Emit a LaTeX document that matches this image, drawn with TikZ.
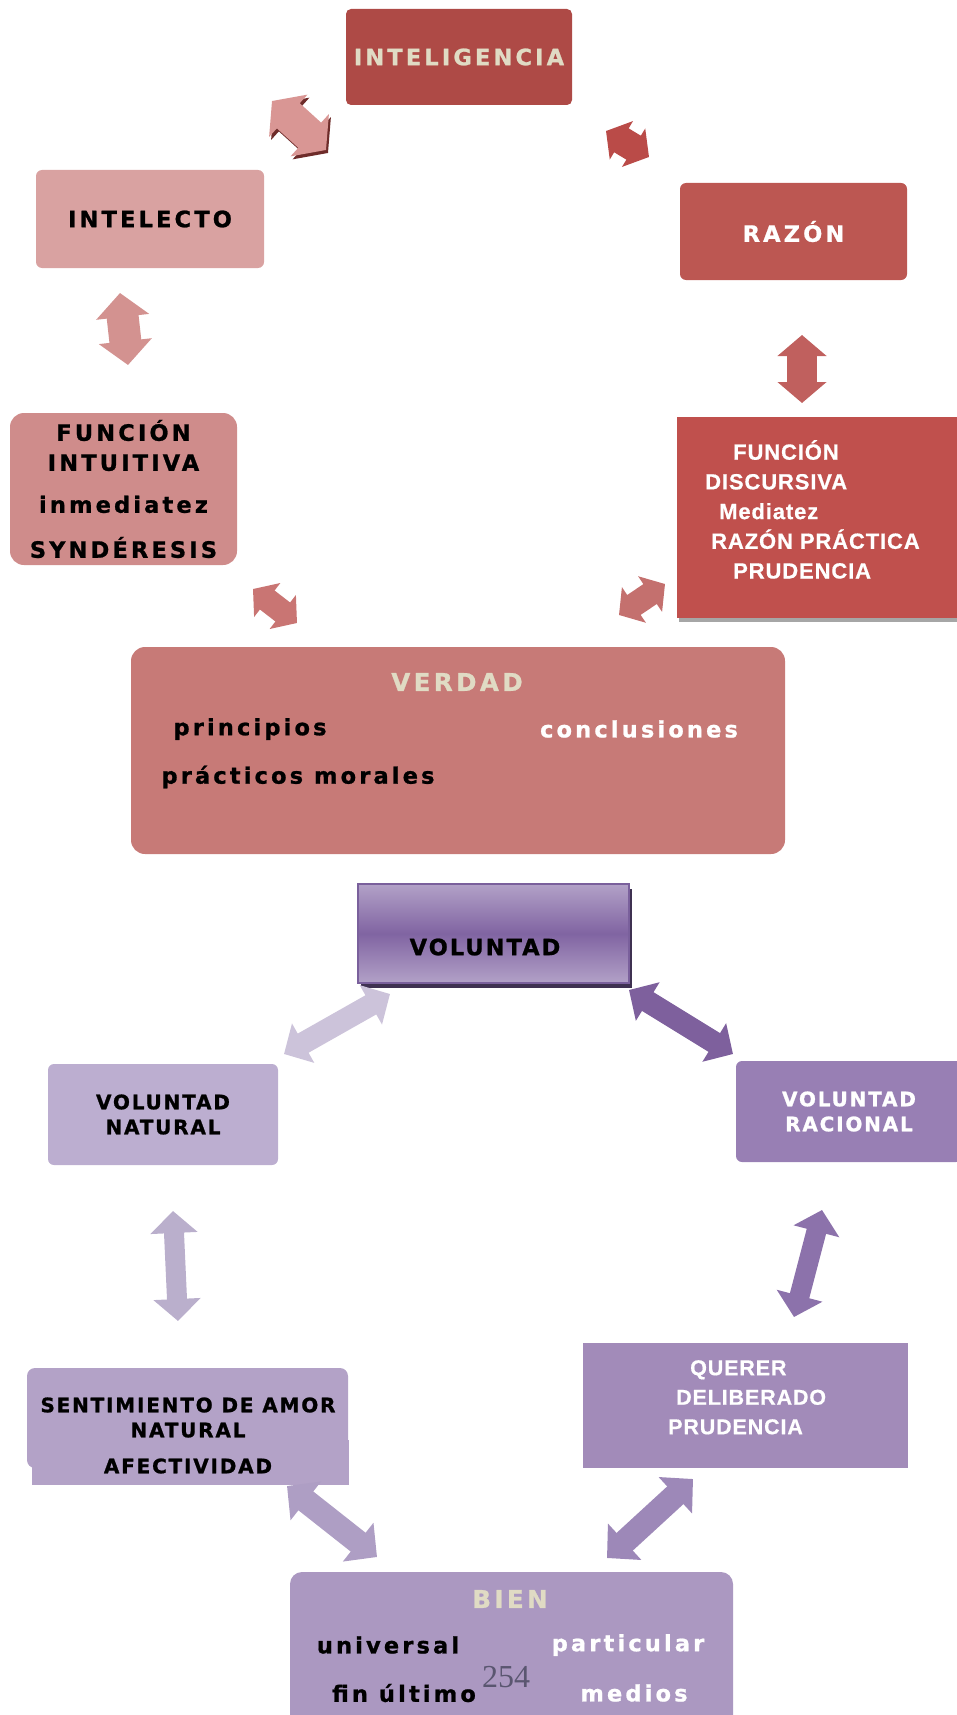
\documentclass[tikz,border=0pt]{standalone}
\usepackage{fontspec}
\setmainfont{Liberation Sans}
\newfontfamily\widefont[LetterSpace=14, BoldFeatures={FakeBold=1}]{DejaVu Sans}
\newfontfamily\midfont[LetterSpace=9, BoldFeatures={FakeBold=1}]{DejaVu Sans}
\newfontfamily\slimfont[LetterSpace=4, BoldFeatures={FakeBold=0.6}]{Liberation Sans}
\newfontfamily\pagefont{Liberation Serif}
\usetikzlibrary{arrows.meta,shadows}

\definecolor{redA}{HTML}{AE4A46}
\definecolor{redB}{HTML}{D9A2A1}
\definecolor{redC}{HTML}{BC5752}
\definecolor{redD}{HTML}{CF8C8B}
\definecolor{redE}{HTML}{C0504D}
\definecolor{redF}{HTML}{C77A77}
\definecolor{beige}{HTML}{E0DBC4}
\definecolor{arrA}{HTML}{D99694}
\definecolor{arrAdark}{HTML}{6E2C2A}
\definecolor{arrB}{HTML}{BA4B48}
\definecolor{arrC}{HTML}{D39290}
\definecolor{arrD}{HTML}{C0605E}
\definecolor{arrE}{HTML}{C97573}
\definecolor{arrF}{HTML}{C4706E}

\definecolor{purA}{HTML}{B2A1C7}
\definecolor{purB}{HTML}{8064A2}
\definecolor{purEdge}{HTML}{7A609C}
\definecolor{purShadow}{HTML}{3F3151}
\definecolor{purC}{HTML}{BCAED0}
\definecolor{purD}{HTML}{987FB4}
\definecolor{purE}{HTML}{B3A2C7}
\definecolor{purF}{HTML}{A28BB9}
\definecolor{purG}{HTML}{AB98C1}
\definecolor{arrG}{HTML}{CCC3DA}
\definecolor{arrH}{HTML}{7E609D}
\definecolor{arrI}{HTML}{BAAFCC}
\definecolor{arrJ}{HTML}{8C72AB}
\definecolor{arrK}{HTML}{AE9EC4}
\definecolor{arrL}{HTML}{9D88B8}
\definecolor{pagenum}{HTML}{5A5670}

\begin{document}
\begin{tikzpicture}[x=1pt,y=-1pt,
	box/.style={rounded corners=6pt, inner sep=0pt, align=center},
	big/.style={inner sep=0pt, font=\widefont\bfseries\fontsize{22.5}{30}\selectfont},
	mid/.style={inner sep=0pt, font=\midfont\bfseries\fontsize{20}{25}\selectfont},
	slim/.style={inner sep=0pt, font=\slimfont\bfseries\fontsize{22}{29.7}\selectfont},
	twoway/.style n args={3}{line width=#1,{Triangle[length=#3,width=#2]}-{Triangle[length=#3,width=#2]}}]
	\useasboundingbox (0,0) rectangle (957,1715);

	\node[box, big, rounded corners=5pt, fill=redA, text=beige, minimum width=226pt, minimum height=96pt](intel) at (459,57) {INTELIGENCIA};
	\node[box, big, fill=redB, minimum width=228pt, minimum height=98pt](intelecto) at (150,219) {INTELECTO};
	\node[box, big, fill=redC, text=white, minimum width=227pt, minimum height=97pt](razon) at (793.5,231.5) {RAZÓN};
	\node[box, big, rounded corners=14pt, fill=redD, minimum width=227pt, minimum height=152pt](intuitiva) at (123.5,489) {FUNCIÓN\\INTUITIVA\\[12pt]inmediatez\\[15pt]SYNDÉRESIS};
	\node[inner sep=0pt, fill=redE, minimum width=283pt, minimum height=201pt, drop shadow={shadow xshift=2pt, shadow yshift=-4pt, fill=black!35, opacity=1}](discursiva) at (818.5,517.5) {};
	\node[slim, text=white, align=left, anchor=north west](disctext) at (705,440) {\hspace*{28pt}FUNCIÓN\\DISCURSIVA\\\hspace*{14pt}Mediatez\\\hspace*{6pt}RAZÓN PRÁCTICA\\\hspace*{28pt}PRUDENCIA};

	\node[box, rounded corners=14pt, fill=redF, minimum width=654pt, minimum height=207pt](verdad) at (458,750.5) {};
	\node[big, font=\widefont\bfseries\fontsize{24.5}{30}\selectfont, text=beige](verdadtit) at (457,682) {VERDAD};
	\node[big](princ) at (250,729) {principios};
	\node[big, text=white](concl) at (639,729) {conclusiones};
	\node[big](pract) at (298,777) {prácticos morales};

	\coordinate (t1) at (272,101); \coordinate (t2) at (326,150);
	\coordinate (t3) at (606,131); \coordinate (t4) at (649,157);
	\coordinate (t5) at (120,293); \coordinate (t6) at (128,365);
	\coordinate (t7) at (802,335); \coordinate (t8) at (802,403);
	\coordinate (t9) at (253,589); \coordinate (t10) at (297,623);
	\coordinate (t11) at (665,584); \coordinate (t12) at (619,615);

	\draw[twoway={34pt}{56pt}{22pt}, color=arrAdark, transform canvas={xshift=2pt, yshift=-3pt}](t1) -- (t2);
	\draw[twoway={34pt}{56pt}{22pt}, color=arrA](t1) -- (t2);
	\draw[twoway={28pt}{44pt}{18pt}, color=arrB](t3) -- (t4);
	\draw[twoway={32pt}{52pt}{24pt}, color=arrC](t5) -- (t6);
	\draw[twoway={30pt}{48pt}{21pt}, color=arrD](t7) -- (t8);
	\draw[twoway={24pt}{42pt}{18pt}, color=arrE](t9) -- (t10);
	\draw[twoway={24pt}{42pt}{18pt}, color=arrF](t11) -- (t12);

	\node[inner sep=0pt, draw=purEdge, line width=1.5pt, top color=purA, bottom color=purA, middle color=purB, minimum width=271pt, minimum height=99pt, drop shadow={shadow xshift=3pt, shadow yshift=-5pt, fill=purShadow, opacity=1}](voluntad) at (493.5,933.5) {};
	\node[mid, font=\midfont\bfseries\fontsize{22.5}{28}\selectfont](voltext) at (485,947) {VOLUNTAD};
	\node[box, mid, fill=purC, minimum width=230pt, minimum height=101pt](natural) at (163,1114.5) {VOLUNTAD\\NATURAL};
	\node[box, mid, fill=purD, text=white, minimum width=226pt, minimum height=101pt](racional) at (849,1111.5) {VOLUNTAD\\RACIONAL};

	\fill[purE](32,1440) rectangle (349,1485);
	\node[box, rounded corners=8pt, fill=purE, minimum width=321pt, minimum height=100pt](sentim) at (187.5,1418) {};
	\node[mid, align=center](sentext) at (188,1435.5) {SENTIMIENTO DE AMOR\\NATURAL\\[11pt]AFECTIVIDAD};
	\node[inner sep=0pt, fill=purF, minimum width=325pt, minimum height=125pt](querer) at (745.5,1405.5) {};
	\node[slim, font=\slimfont\bfseries\fontsize{21.5}{29.5}\selectfont, text=white, align=left, anchor=north west](quertext) at (668,1360) {\hspace*{22pt}QUERER\\\hspace*{8pt}DELIBERADO\\PRUDENCIA};

	\node[box, rounded corners=12pt, fill=purG, minimum width=443pt, minimum height=170pt](bien) at (511.5,1657) {};
	\node[big, font=\widefont\bfseries\fontsize{24.5}{30}\selectfont, text=beige](bientit) at (510,1599) {BIEN};
	\node[big](univ) at (388,1645) {universal};
	\node[big, text=white](partic) at (628,1645) {particular};
	\node[big](fin) at (404,1693) {fin último};
	\node[big, text=white](medios) at (634,1693) {medios};
	\node[inner sep=0pt, font=\pagefont\fontsize{32}{36}\selectfont, text=pagenum](pagen) at (506,1677) {254};

	\coordinate (u1) at (390,994); \coordinate (u2) at (284,1054);
	\coordinate (u3) at (629,990); \coordinate (u4) at (733,1054);
	\coordinate (u5) at (173,1211); \coordinate (u6) at (178,1321);
	\coordinate (u7) at (822,1210); \coordinate (u8) at (794,1317);
	\coordinate (u9) at (287,1486); \coordinate (u10) at (377,1557);
	\coordinate (u11) at (693,1479); \coordinate (u12) at (607,1558);

	\draw[twoway={22pt}{44pt}{22pt}, color=arrG](u1) -- (u2);
	\draw[twoway={22pt}{44pt}{22pt}, color=arrH](u3) -- (u4);
	\draw[twoway={20pt}{46pt}{22pt}, color=arrI](u5) -- (u6);
	\draw[twoway={20pt}{46pt}{22pt}, color=arrJ](u7) -- (u8);
	\draw[twoway={24pt}{48pt}{24pt}, color=arrK](u9) -- (u10);
	\draw[twoway={24pt}{48pt}{24pt}, color=arrL](u11) -- (u12);
\end{tikzpicture}
\end{document}
